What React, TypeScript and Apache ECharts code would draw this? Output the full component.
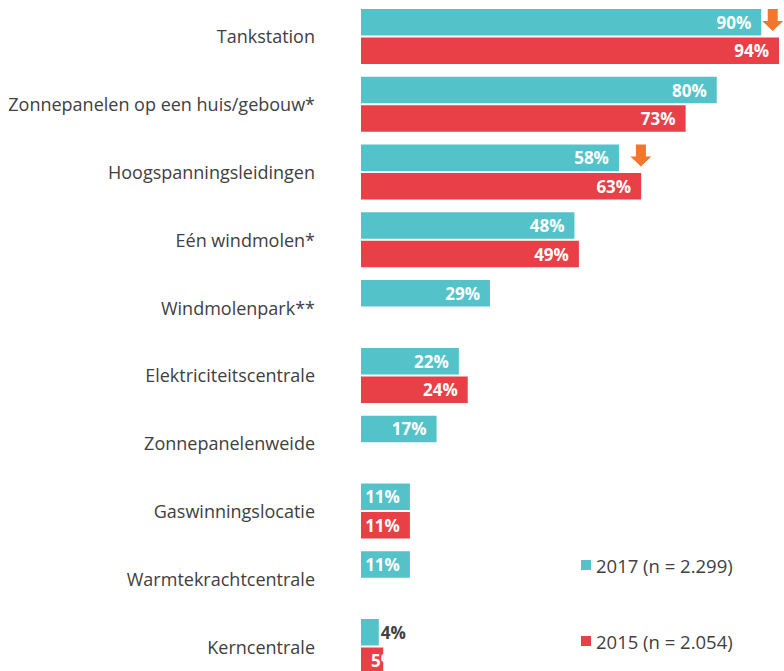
import React, { useEffect, useRef } from "react";
import * as echarts from "echarts";

const categories = [
  "Tankstation",
  "Zonnepanelen op een huis/gebouw*",
  "Hoogspanningsleidingen",
  "Eén windmolen*",
  "Windmolenpark**",
  "Elektriciteitscentrale",
  "Zonnepanelenweide",
  "Gaswinningslocatie",
  "Warmtekrachtcentrale",
  "Kerncentrale",
];
const values2017 = [90, 80, 58, 48, 29, 22, 17, 11, 11, 4];
const values2015: (number | null)[] = [94, 73, 63, 49, null, 24, null, 11, null, 5];
const series2017Name = "2017 (n = 2.299)";
const series2015Name = "2015 (n = 2.054)";
// categories where 2017 shows a significant decrease (orange arrow)
const declineCategories = ["Tankstation", "Hoogspanningsleidingen"];

const CYAN = "#53C3C9";
const RED = "#E84046";
const ORANGE = "#F2762C";
const TEXT = "#404040";
const FONT = "'Open Sans', 'Noto Sans', sans-serif";

export default function App() {
  const ref = useRef<HTMLDivElement>(null);
  useEffect(() => {
    if (!ref.current) return;
    const chart = echarts.init(ref.current, null, { renderer: "svg" });

    const smallLabel = (v: number, year: string) => {
      if (v >= 8) return v;
      if (year === "2017")
        return { value: v, label: { position: "right", distance: 2, color: TEXT } };
      return { value: v, label: { position: "insideLeft", distance: 10 } };
    };

    const arrowData = declineCategories.map((c, i) => {
      const idx = categories.indexOf(c);
      return {
        value: [values2017[idx], c],
        symbolOffset: [i === 0 ? 11.5 : 22, -16.5],
      };
    });

    const barLabel = {
      show: true,
      position: "insideRight",
      distance: 10,
      formatter: "{c}%",
      color: "#fff",
      fontWeight: "bold",
      fontSize: 17,
      fontFamily: FONT,
    };

    const legendText = { fontSize: 18.5, color: TEXT, fontFamily: FONT, lineHeight: 20 };

    const option: any = {
      animation: false,
      textStyle: { fontFamily: FONT },
      grid: {
        left: 361,
        top: 2.6,
        width: 444.7,
        height: 677.8,
        containLabel: false,
        outerBoundsMode: "none",
      },
      legend: [
        {
          data: [series2017Name],
          left: 581,
          top: 555,
          padding: 0,
          icon: "rect",
          itemWidth: 10,
          itemHeight: 10,
          textStyle: legendText,
        },
        {
          data: [series2015Name],
          left: 581,
          top: 631,
          padding: 0,
          icon: "rect",
          itemWidth: 10,
          itemHeight: 10,
          textStyle: legendText,
        },
      ],
      xAxis: { type: "value", min: 0, max: 100, show: false },
      yAxis: {
        type: "category",
        data: categories,
        inverse: true,
        axisLine: { show: false },
        axisTick: { show: false },
        splitLine: { show: false },
        axisLabel: { fontSize: 18, color: TEXT, margin: 46, fontFamily: FONT },
      },
      series: [
        {
          name: series2017Name,
          type: "bar",
          data: values2017.map((v) => smallLabel(v, "2017")),
          barWidth: 26.5,
          barGap: "7.5%",
          itemStyle: { color: CYAN },
          label: barLabel,
        },
        {
          name: series2015Name,
          type: "bar",
          data: values2015.map((v) => (v == null ? "-" : smallLabel(v, "2015"))),
          barWidth: 26.5,
          barGap: "7.5%",
          itemStyle: { color: RED },
          label: barLabel,
        },
        {
          name: "daling",
          type: "scatter",
          data: arrowData,
          symbol: "path://M5.5,0 H15.5 V12 H21 L10.5,22 L0,12 H5.5 Z",
          symbolSize: [21, 22],
          itemStyle: { color: ORANGE, opacity: 1 },
          silent: true,
          z: 5,
        },
      ],
    };
    chart.setOption(option);
    return () => chart.dispose();
  }, []);
  return (
    <div
      ref={ref}
      style={{ position: "fixed", left: 0, top: 0, width: 784, height: 671, background: "#fff" }}
    />
  );
}
